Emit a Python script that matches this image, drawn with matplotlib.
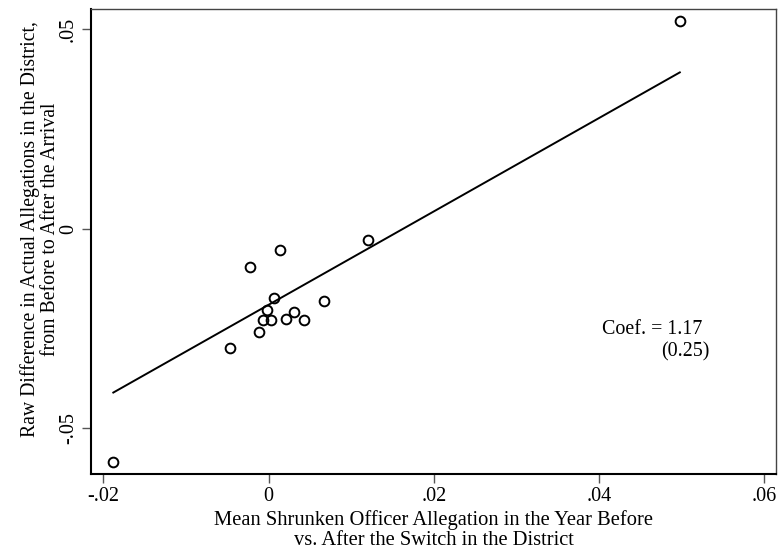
import numpy as np
import matplotlib
matplotlib.use("Agg")
import matplotlib.pyplot as plt

# Data
x_vals = [0.01198, 0.00137, -0.00226, 0.00068, 0.00673, -0.00021, 0.00302,
          -0.00065, 0.00024, 0.00206, 0.00431, -0.00117, -0.00468, -0.0188, 0.04976]
y_vals = [-0.00268, -0.00534, -0.0096, -0.01722, -0.01812, -0.0203, -0.0208,
          -0.0228, -0.0228, -0.02248, -0.02288, -0.02589, -0.0299, -0.0583, 0.0521]

# Fitted line as shown in the reference (coefficient printed on chart)
fit_slope = 1.17
fit_intercept = -0.0190

xticks = [-0.02, 0.0, 0.02, 0.04, 0.06]
xtick_labels = ["-.02", "0", ".02", ".04", ".06"]
yticks = [-0.05, 0.0, 0.05]
ytick_labels = ["-.05", "0", ".05"]

coef_text = "Coef. = 1.17"
se_text = "(0.25)"
xlabel = "Mean Shrunken Officer Allegation in the Year Before\nvs. After the Switch in the District"
ylabel = "Raw Difference in Actual Allegations in the District,\nfrom Before to After the Arrival"

plt.rcParams['font.family'] = ['Liberation Serif', 'DejaVu Serif']

W, H = 779, 550
fig = plt.figure(figsize=(W / 100, H / 100), dpi=100)
ax = fig.add_axes([91/W, 1 - 474/H, (776 - 91)/W, (474 - 9)/H])

x = np.array(x_vals)
y = np.array(y_vals)
xl = np.array([x.min(), x.max()])
ax.plot(xl, fit_intercept + fit_slope * xl, color='black', lw=1.4, zorder=2)
ax.plot(x, y, 'o', ms=7, mfc='none', mec='black', mew=1.4, zorder=3)

ax.set_xlim(-0.0215, 0.0614)
ax.set_ylim(-0.0614, 0.0551)
ax.set_xticks(xticks)
ax.set_xticklabels(xtick_labels)
ax.set_yticks(yticks)
ax.set_yticklabels(ytick_labels, rotation=90, va='center')
ax.tick_params(axis='both', direction='out', length=6.3, width=1.0, color='#555555',
               labelsize=14.6, pad=3)

for s in ['left', 'bottom']:
    ax.spines[s].set_color('black')
    ax.spines[s].set_linewidth(1.5)
for s in ['top', 'right']:
    ax.spines[s].set_color('#444444')
    ax.spines[s].set_linewidth(1.0)

fig.text((91 + 776) / 2 / W, 1 - 530 / H, xlabel, fontsize=14.8, ha='center', va='center',
         multialignment='center', linespacing=1.08)
fig.text(40 / W, 1 - 229 / H, ylabel, fontsize=14.2, ha='center', va='center',
         rotation=90, multialignment='center', linespacing=1.08)

ax.text(0.0403, -0.0253, coef_text, fontsize=14.4, ha='left', va='center')
ax.text(0.0534, -0.0308, se_text, fontsize=14.4, ha='right', va='center')

fig.savefig("out.png", dpi=100)
